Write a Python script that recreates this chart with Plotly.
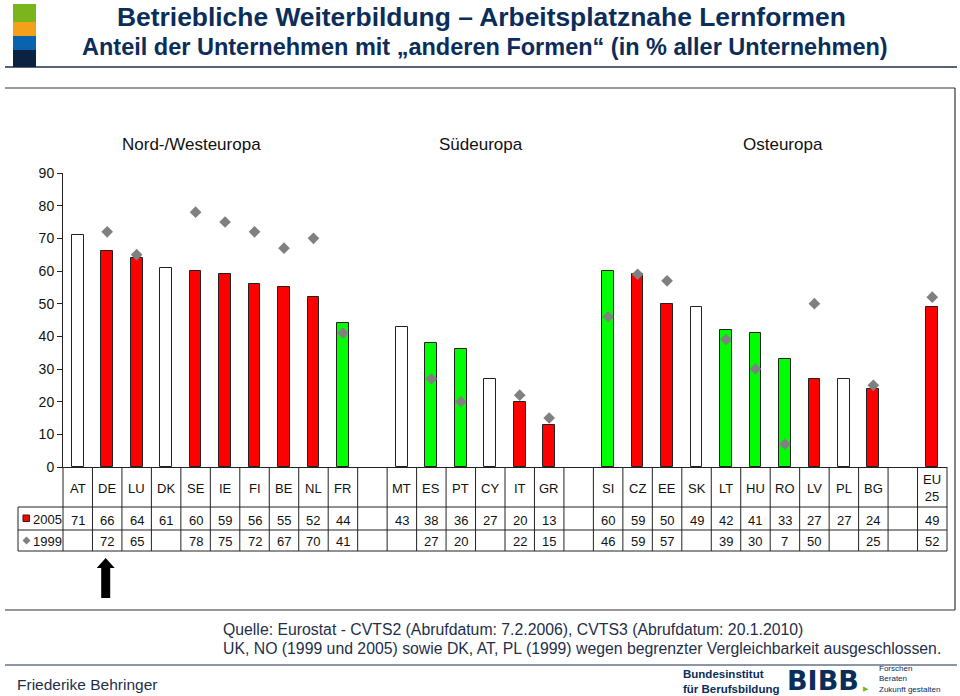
import plotly.graph_objects as go

# ---------------- data ----------------
categories = ["AT", "DE", "LU", "DK", "SE", "IE", "FI", "BE", "NL", "FR", "",
              "MT", "ES", "PT", "CY", "IT", "GR", "",
              "SI", "CZ", "EE", "SK", "LT", "HU", "RO", "LV", "PL", "BG", "",
              "EU<br>25"]
v2005 = [71, 66, 64, 61, 60, 59, 56, 55, 52, 44, None,
         43, 38, 36, 27, 20, 13, None,
         60, 59, 50, 49, 42, 41, 33, 27, 27, 24, None,
         49]
v1999 = [None, 72, 65, None, 78, 75, 72, 67, 70, 41, None,
         None, 27, 20, None, 22, 15, None,
         46, 59, 57, None, 39, 30, 7, 50, None, 25, None,
         52]
groups = ["Nord-/Westeuropa", "Südeuropa", "Osteuropa"]
series_names = ["2005", "1999"]
y_ticks = [0, 10, 20, 30, 40, 50, 60, 70, 80, 90]

# ---------------- geometry helpers ----------------
W, H = 960, 696
L, R, T, B = 63, 947, 173, 467
n = len(categories)
FONT = "Liberation Sans, Arial, Helvetica, sans-serif"
NAVY = "#0b2d5a"
LINE = "#222222"


def px(x):
    return (x - L) / (R - L)


def py(y):
    return (B - y) / (B - T)


def slot_edge(i):
    return i / n  # paper x of boundary before slot i


# ---------------- traces ----------------
bx, by, bc = [], [], []
for i, v in enumerate(v2005):
    if v is None:
        continue
    bx.append(i)
    by.append(v)
    old = v1999[i]
    if old is None:
        bc.append("#FFFFFF")
    elif v > old:
        bc.append("#00FF00")
    else:
        bc.append("#FF0000")

dx = [i for i, v in enumerate(v1999) if v is not None]
dy = [v for v in v1999 if v is not None]

fig = go.Figure()
fig.add_trace(go.Bar(x=bx, y=by, width=0.4, name=series_names[0],
                     marker=dict(color=bc, line=dict(color=LINE, width=1))))
fig.add_trace(go.Scatter(x=dx, y=dy, mode="markers", name=series_names[1],
                         marker=dict(symbol="diamond", size=9, color="#808080",
                                     line=dict(width=0))))

shapes = []
ann = []

# ---------------- table ----------------
ROW0, ROW1, ROW2, ROW3 = 467, 507, 530, 551
LBL = 18
for i in range(n + 1):
    shapes.append(dict(type="line", xref="paper", yref="paper",
                       x0=slot_edge(i), x1=slot_edge(i), y0=py(ROW0), y1=py(ROW3),
                       line=dict(color=LINE, width=1)))
shapes.append(dict(type="line", xref="paper", yref="paper",
                   x0=px(LBL), x1=px(LBL), y0=py(ROW1), y1=py(ROW3),
                   line=dict(color=LINE, width=1)))
for yy in (ROW1, ROW2, ROW3):
    shapes.append(dict(type="line", xref="paper", yref="paper",
                       x0=px(LBL), x1=1, y0=py(yy), y1=py(yy),
                       line=dict(color=LINE, width=1)))

for i, c in enumerate(categories):
    if c:
        ann.append(dict(x=i, xref="x", y=py(488), yref="paper", text=c,
                        showarrow=False, font=dict(size=13, color="#111"),
                        xanchor="center", yanchor="middle"))
    if v2005[i] is not None:
        ann.append(dict(x=i, xref="x", y=py(520), yref="paper", text=str(v2005[i]),
                        showarrow=False, font=dict(size=13, color="#111"),
                        xanchor="center", yanchor="middle"))
    if v1999[i] is not None:
        ann.append(dict(x=i, xref="x", y=py(541), yref="paper", text=str(v1999[i]),
                        showarrow=False, font=dict(size=13, color="#111"),
                        xanchor="center", yanchor="middle"))

# row labels
ann.append(dict(x=px(31), xref="paper", y=py(519), yref="paper", text=series_names[0],
                showarrow=False, font=dict(size=13, color="#111"),
                xanchor="left", yanchor="middle"))
ann.append(dict(x=px(31), xref="paper", y=py(541), yref="paper", text=series_names[1],
                showarrow=False, font=dict(size=13, color="#111"),
                xanchor="left", yanchor="middle"))
shapes.append(dict(type="rect", xref="paper", yref="paper",
                   x0=px(23), x1=px(29.5), y0=py(515), y1=py(521.5),
                   fillcolor="#FF0000", line=dict(color=LINE, width=1)))
shapes.append(dict(type="path", xref="paper", yref="paper",
                   path="M {} {} L {} {} L {} {} L {} {} Z".format(
                       px(22.5), py(540.5), px(26.5), py(536.5),
                       px(30.5), py(540.5), px(26.5), py(544.5)),
                   fillcolor="#808080", line=dict(width=0)))

# group headers
for g, gx in zip(groups, [3.85, 13.67, 23.92]):
    ann.append(dict(x=gx, xref="x", y=py(145), yref="paper", text=g,
                    showarrow=False, font=dict(size=17, color="#111"),
                    xanchor="center", yanchor="middle"))

# arrow under DE
ax = 1.0  # DE column index
acx = L + (ax + 0.5) * (R - L) / n - 1.5
pts = [(acx, 558), (acx + 9, 568), (acx + 4.5, 568), (acx + 4.5, 598),
       (acx - 4.5, 598), (acx - 4.5, 568), (acx - 9, 568)]
path = "M " + " L ".join("{} {}".format(px(a), py(b)) for a, b in pts) + " Z"
shapes.append(dict(type="path", xref="paper", yref="paper", path=path,
                   fillcolor="#000000", line=dict(width=0)))

# ---------------- frame & separators ----------------
def hline(y, x0, x1, color, w):
    shapes.append(dict(type="line", xref="paper", yref="paper",
                       x0=px(x0), x1=px(x1), y0=py(y), y1=py(y),
                       line=dict(color=color, width=w)))


hline(67, 5, 957, "#1c2f4f", 1.5)
hline(88, 5, 955, "#333333", 1.2)
hline(610, 5, 955, "#333333", 1.2)
hline(665, 5, 957, "#1c2f4f", 1.2)
shapes.append(dict(type="line", xref="paper", yref="paper",
                   x0=px(955), x1=px(955), y0=py(88), y1=py(610),
                   line=dict(color="#333333", width=1.2)))

# logo blocks top-left
for y0, y1, col in [(4, 22, "#7ab51d"), (22, 36, "#f5a01a"),
                    (36, 50, "#0a63ae"), (50, 67, "#0b2341")]:
    shapes.append(dict(type="rect", xref="paper", yref="paper",
                       x0=px(13), x1=px(36), y0=py(y0), y1=py(y1),
                       fillcolor=col, line=dict(width=0)))

# titles
ann.append(dict(x=px(481), xref="paper", y=py(17), yref="paper",
                text="<b>Betriebliche Weiterbildung – Arbeitsplatznahe Lernformen</b>",
                showarrow=False, font=dict(size=26.4, color=NAVY, family=FONT),
                xanchor="center", yanchor="middle"))
ann.append(dict(x=px(485), xref="paper", y=py(47), yref="paper",
                text="<b>Anteil der Unternehmen mit „anderen Formen“ (in % aller Unternehmen)</b>",
                showarrow=False, font=dict(size=23.5, color=NAVY, family=FONT),
                xanchor="center", yanchor="middle"))

# footer
ann.append(dict(x=px(221), xref="paper", y=py(629), yref="paper",
                text="Quelle: Eurostat - CVTS2 (Abrufdatum: 7.2.2006), CVTS3 (Abrufdatum: 20.1.2010)",
                showarrow=False, font=dict(size=15.8, color="#1f2f4a"),
                xanchor="left", yanchor="middle"))
ann.append(dict(x=px(221), xref="paper", y=py(648), yref="paper",
                text="UK, NO (1999 und 2005) sowie DK, AT, PL (1999) wegen begrenzter Vergleichbarkeit ausgeschlossen.",
                showarrow=False, font=dict(size=15.8, color="#1f2f4a"),
                xanchor="left", yanchor="middle"))
ann.append(dict(x=px(15), xref="paper", y=py(684), yref="paper",
                text="Friederike Behringer",
                showarrow=False, font=dict(size=15.5, color="#1f2f4a"),
                xanchor="left", yanchor="middle"))

# BIBB logo (text)
ann.append(dict(x=px(681), xref="paper", y=py(681), yref="paper",
                text="<b>Bundesinstitut<br>für Berufsbildung</b>",
                showarrow=False, font=dict(size=11.5, color=NAVY), align="left",
                xanchor="left", yanchor="middle"))
ann.append(dict(x=px(785), xref="paper", y=py(680), yref="paper",
                text="<b>BIBB</b>",
                showarrow=False, font=dict(size=27, color=NAVY, family="DejaVu Sans, sans-serif"),
                xanchor="left", yanchor="middle"))
ann.append(dict(x=px(866), xref="paper", y=py(688), yref="paper",
                text="▶", showarrow=False, font=dict(size=7, color="#7ab51d"),
                xanchor="center", yanchor="middle"))
ann.append(dict(x=px(877), xref="paper", y=py(679), yref="paper",
                text="Forschen<br>Beraten<br>Zukunft gestalten",
                showarrow=False, font=dict(size=8, color=NAVY), align="left",
                xanchor="left", yanchor="middle"))

fig.update_layout(
    width=W, height=H,
    margin=dict(l=L, r=W - R, t=T, b=H - B, pad=0),
    paper_bgcolor="white", plot_bgcolor="white",
    font=dict(family=FONT, color="#111"),
    showlegend=False,
    bargap=0,
    xaxis=dict(range=[-0.5, n - 0.5], showticklabels=False, showgrid=False,
               zeroline=False, showline=True, linecolor=LINE, linewidth=1,
               ticks="", fixedrange=True),
    yaxis=dict(range=[0, 90], tickvals=y_ticks, showgrid=False, zeroline=False,
               showline=True, linecolor=LINE, linewidth=1, ticks="outside",
               ticklen=5, tickcolor=LINE, tickfont=dict(size=14, color="#111"),
               fixedrange=True),
    shapes=shapes,
    annotations=ann,
)

fig.write_html("out.html", config={"displayModeBar": False},
               post_script="document.body.style.margin='0';document.body.style.overflow='hidden';")
